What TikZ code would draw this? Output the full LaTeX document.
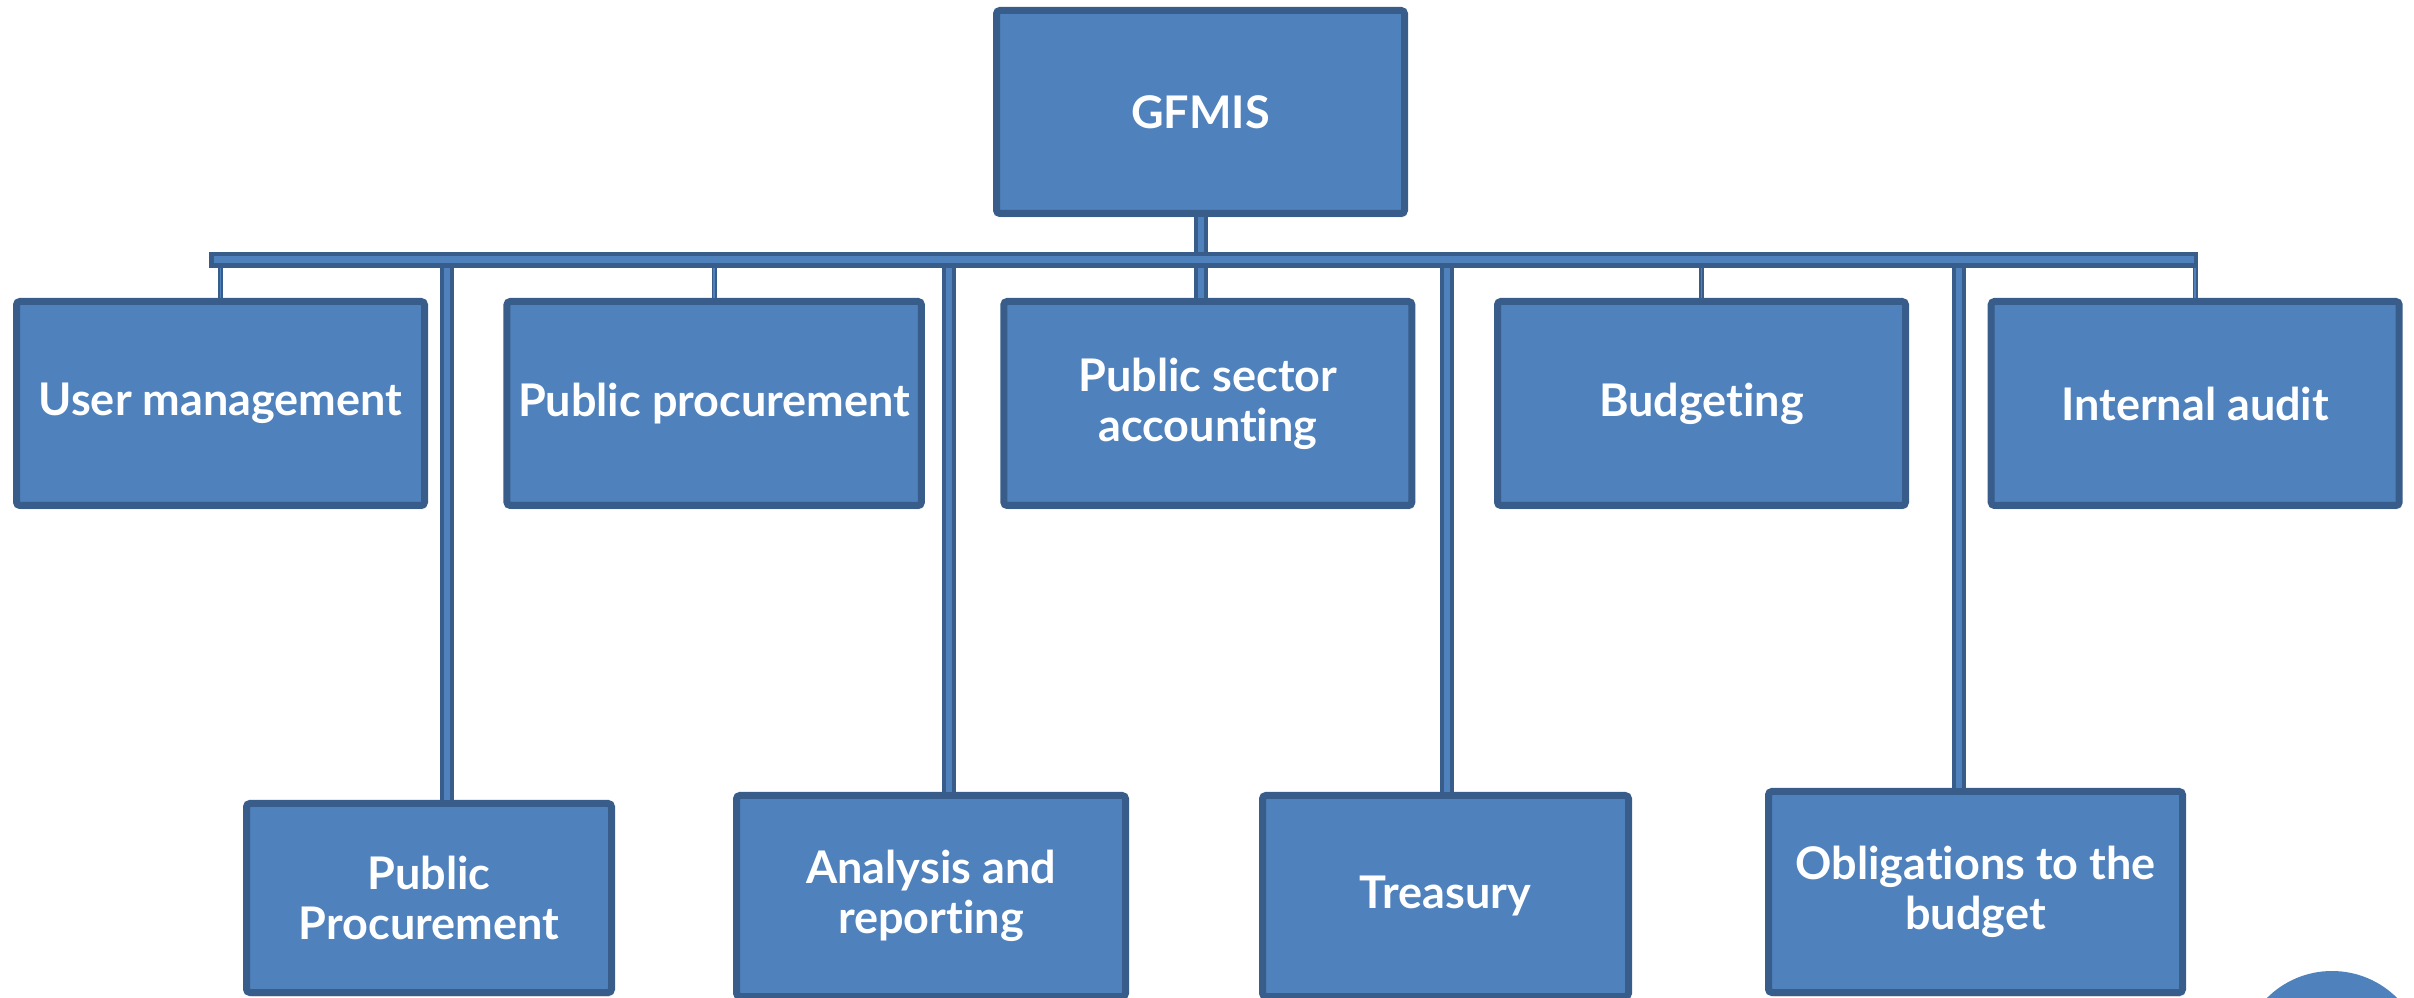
\documentclass[tikz,border=0pt]{standalone}
\usepackage{fontspec}
\setmainfont{Lato}[Ligatures=NoCommon]
\usetikzlibrary{shadows}
\definecolor{boxfill}{HTML}{4F81BD}
\definecolor{boxline}{HTML}{385D8A}
\tikzstyle{block}=[draw=boxline,fill=boxfill,line width=2.1pt,rounded corners=1pt,
  text=white,font=\fontsize{13.5}{15}\selectfont\bfseries,align=center,
  drop shadow={shadow xshift=0.5pt,shadow yshift=-1.2pt,opacity=0.2}]
\tikzstyle{rowbox}=[block,minimum width=122.4pt,minimum height=61.2pt]
\tikzstyle{busbar}=[draw=boxline,fill=boxfill,line width=1.35pt,inner sep=0pt,
  minimum width=595.35pt,minimum height=3.45pt]
\tikzstyle{trunk}=[draw=boxline,line width=1.2pt,double=boxfill,double distance=1.8pt]
\tikzstyle{twig}=[draw=boxline,line width=0.5pt,double=boxfill,double distance=0.5pt]

\begin{document}
\begin{tikzpicture}[x=0.3pt,y=-0.3pt]
  \clip (0,0) rectangle (2414,998);
  \node[block, minimum width=122.4pt, minimum height=60.9pt] (gfmis) at (1200.5,112) {GFMIS};
  \node[busbar] (bus) at (1203.5,260) {};

  \node[rowbox] (user) at (220.5,403.5) {User management};
  \node[rowbox, right of=user, node distance=148.1pt] (proc) {Public procurement};
  \node[rowbox, right of=proc, node distance=148.1pt] (psa) {Public sector\\accounting};
  \node[rowbox, right of=psa, node distance=148.1pt] (budget) {Budgeting};
  \node[rowbox, right of=budget, node distance=148.1pt] (audit) {Internal audit};

  \node[block, minimum width=109.5pt, minimum height=56.7pt] (pubproc) at (429,898) {Public\\Procurement};
  \node[block, minimum width=116.7pt, minimum height=60.3pt] (analysis) at (931,896) {Analysis and\\reporting};
  \node[block, minimum width=109.8pt, minimum height=60.3pt] (treasury) at (1445.5,896) {Treasury};
  \node[block, minimum width=124.2pt, minimum height=60.3pt] (obligations) at (1975.5,892) {Obligations to the\\budget};

  \coordinate (t1) at (447,260);
  \coordinate (t2) at (949,260);
  \coordinate (t3) at (1447,260);
  \coordinate (t4) at (1959,260);

  \draw[trunk] (gfmis.south) -- (gfmis.south |- bus.north);
  \draw[trunk] (gfmis.south |- bus.south) -- (gfmis.south |- psa.north);
  \foreach \n in {user,proc,budget,audit}
    \draw[twig] (bus.south -| \n.north) -- (\n.north);
  \foreach \t/\n in {t1/pubproc,t2/analysis,t3/treasury,t4/obligations}
    \draw[trunk] (\t |- bus.south) -- (\t |- \n.north);

  \fill[boxfill] (2332,1063) circle (27.6pt);
\end{tikzpicture}
\end{document}
